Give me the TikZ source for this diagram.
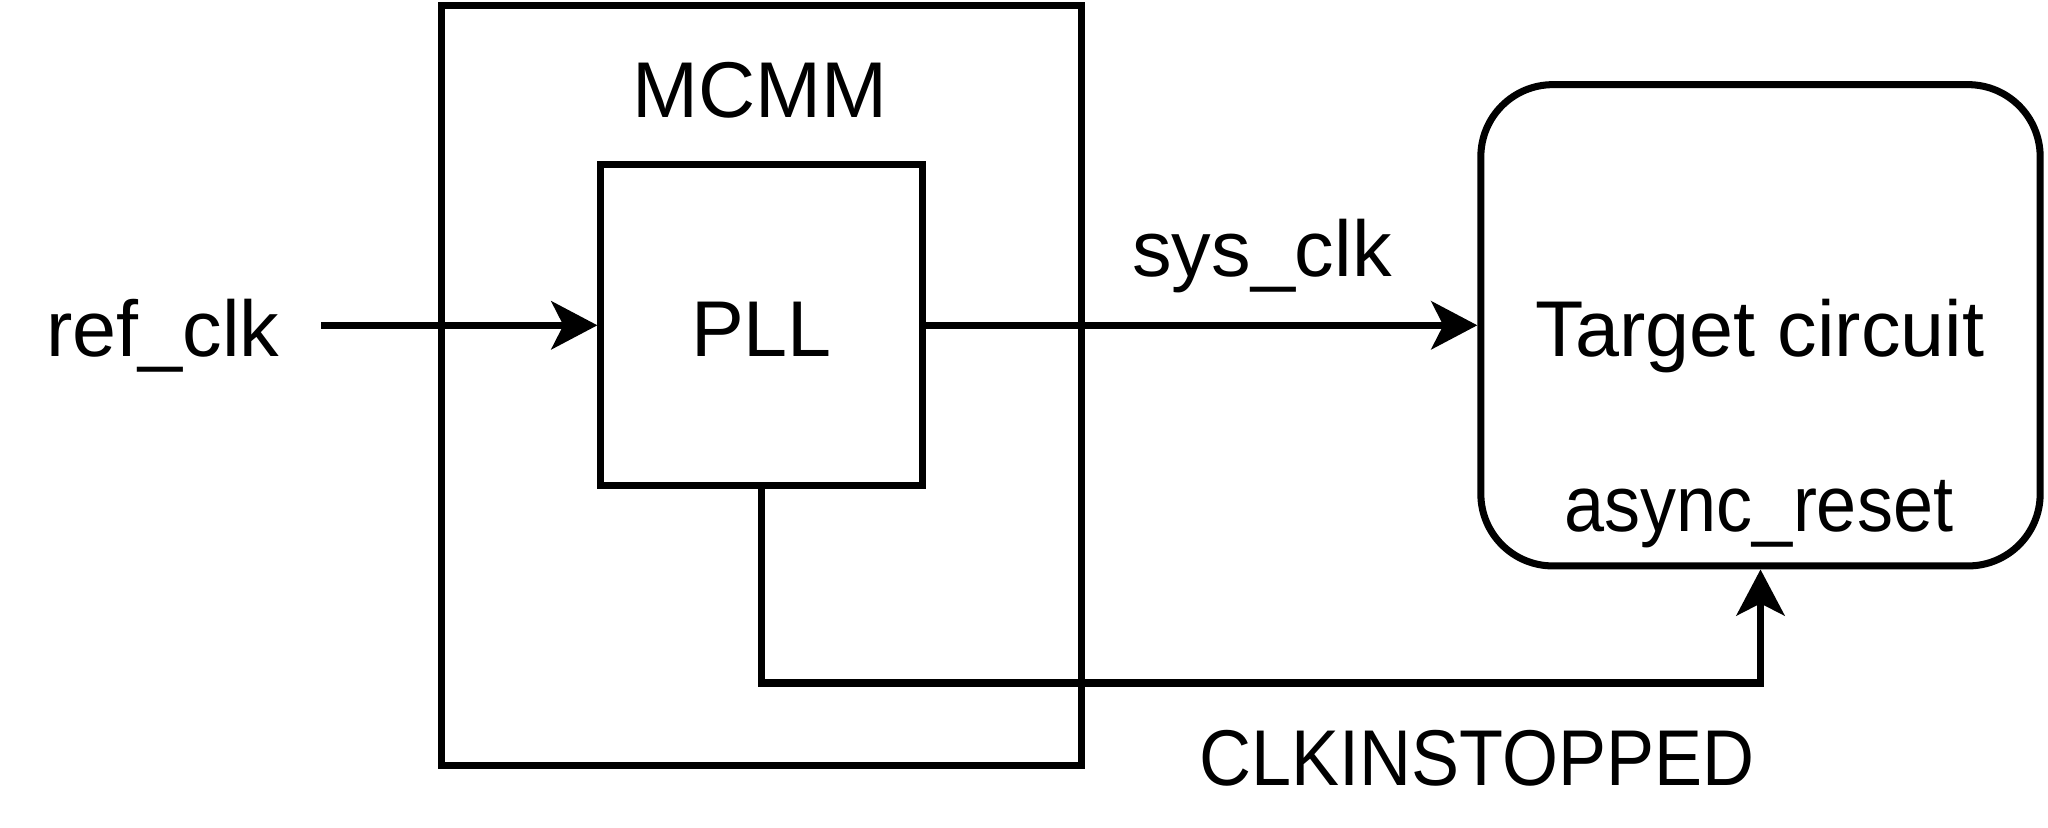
\documentclass[tikz,border=0pt]{standalone}
\usepackage{fontspec}
\setmainfont{Liberation Sans}
\usetikzlibrary{arrows.meta,positioning}

\newcommand{\narrowtxt}[1]{\scalebox{0.91}[1]{#1}}

\begin{document}
\begin{tikzpicture}[x=0.01cm, y=-0.01cm, line width=2pt,
    >={Stealth[length=0.46cm, width=0.48cm, inset=0.12cm]},
    font=\fontsize{22.5pt}{27pt}\selectfont,
    blockbox/.style={draw, rectangle, inner sep=0pt},
    lbl/.style={anchor=base, inner sep=0pt},
    sig/.style={->}]
  %% page: 2048 x 828 px, 1 px = 0.01cm, y downwards
  \useasboundingbox (0,0) rectangle (2048,828);
  %% Blocks
  \node[blockbox, minimum width=6.40cm, minimum height=7.60cm] (mcmm) at (761.5,385.3) {};
  \node[blockbox, minimum width=3.21cm, minimum height=3.21cm] (pll) at (761.5,325.3) {};
  \node[blockbox, rounded corners=0.72cm, minimum width=5.59cm, minimum height=4.81cm] (target) at (1760.5,325.3) {};
  %% Texts
  \node[lbl] (mcmmlbl) at (760,118) {MCMM};
  \node[lbl] (plllbl) at (761.5,357) {PLL};
  \node[lbl] (targetlbl) at (1760,357) {Target circuit};
  \node[lbl] (resetlbl) at (1759,532) {\narrowtxt{async\_reset}};
  \node[lbl] (reflbl) at (163,357) {ref\_clk};
  \node[lbl] (syslbl) at (1262,277) {sys\_clk};
  \node[lbl] (stoplbl) at (1477,786) {\narrowtxt{CLKINSTOPPED}};
  %% Connectors
  \coordinate (refin) at (321,325.3);
  \coordinate (stopturn) at (761.5,683);
  \draw[sig] (refin) -- (pll.west);
  \draw[sig] (pll.east) -- (target.west);
  \draw[sig] (pll.south) -- (stopturn) -| (target.south);
\end{tikzpicture}
\end{document}
